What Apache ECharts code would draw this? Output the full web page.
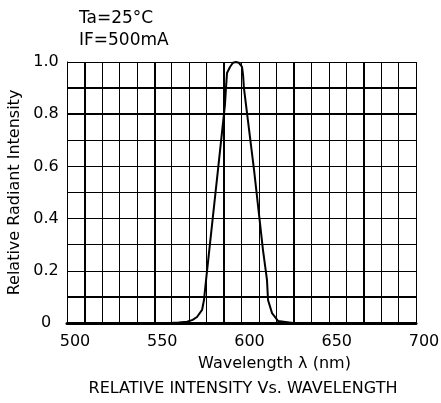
<!DOCTYPE html>
<html>
<head>
<meta charset="utf-8">
<script src="https://cdn.jsdelivr.net/npm/echarts@6/dist/echarts.min.js"></script>
<style>
  html, body { margin: 0; padding: 0; background: #fff; }
  #chart { width: 441px; height: 403px; }
</style>
</head>
<body>
<div id="chart"></div>
<script>
// spectrum
const wavelength = [500, 550, 559, 564, 568.8, 572, 574.5, 577.4, 578.5, 579.7, 586.5, 590.5, 591.1, 591.7, 593.4, 595.1, 596.8, 598.5, 600.3, 600.9, 601.4, 602.6, 607.2, 612.3, 614.6, 615.2, 617.5, 620.9, 629.5, 700]
const intensity = [0, 0, 0, 0.002, 0.005, 0.012, 0.023, 0.05, 0.088, 0.165, 0.586, 0.835, 0.9, 0.958, 0.981, 0.997, 1.0, 0.997, 0.981, 0.95, 0.9, 0.835, 0.586, 0.28, 0.165, 0.088, 0.038, 0.008, 0, 0]

// heavier grid lines on the original sheet
const boldX = [510, 550, 590, 630, 670]
const boldY = [0.1, 0.8, 0.9]

const conditions = ['Ta=25°C', 'IF=500mA']
const caption = 'RELATIVE INTENSITY Vs. WAVELENGTH'

const font = 'DejaVu Sans'
const chart = echarts.init(document.getElementById('chart'))

const marks = [
  ...boldX.map(v => ({ xAxis: v })),
  ...boldY.map(v => ({ yAxis: v }))
]

chart.setOption({
  animation: false,
  backgroundColor: '#fff',
  textStyle: { fontFamily: font, color: '#000' },
  title: [
    {
      text: conditions.join('\n'),
      left: 74,
      top: 3,
      textStyle: { fontFamily: font, fontSize: 17, fontWeight: 'normal', color: '#000', lineHeight: 22 }
    },
    {
      text: caption,
      left: 238,
      textAlign: 'center',
      top: 376,
      textStyle: { fontFamily: font, fontSize: 16, fontWeight: 'normal', color: '#000' }
    }
  ],
  grid: { left: 67, right: 25, top: 62, bottom: 80, show: false, containLabel: false, outerBoundsMode: 'none' },
  xAxis: {
    type: 'value',
    min: 500,
    max: 700,
    interval: 50,
    name: 'Wavelength λ (nm)',
    nameLocation: 'middle',
    nameGap: 33,
    nameTextStyle: { fontFamily: font, fontSize: 16, color: '#000', padding: [0, 0, 0, 66] },
    axisLine: { show: true, onZero: false, lineStyle: { color: '#000', width: 3 } },
    axisTick: { show: false },
    axisLabel: { fontFamily: font, fontSize: 16, color: '#000', margin: 11, padding: [0, 0, 0, 16] },
    splitLine: { show: true, lineStyle: { color: '#000', width: 1 } },
    minorTick: { show: false, splitNumber: 5 },
    minorSplitLine: { show: true, lineStyle: { color: '#000', width: 1 } }
  },
  yAxis: {
    type: 'value',
    min: 0,
    max: 1,
    interval: 0.2,
    name: 'Relative Radiant Intensity',
    nameLocation: 'middle',
    nameRotate: 90,
    nameGap: 42,
    nameTextStyle: { fontFamily: font, fontSize: 16, color: '#000' },
    axisLine: { show: true, lineStyle: { color: '#000', width: 1 } },
    axisTick: { show: false },
    axisLabel: {
      fontFamily: font,
      fontSize: 16,
      color: '#000',
      align: 'center',
      margin: 21,
      formatter: v => (v === 0 ? '0' : v.toFixed(1))
    },
    splitLine: { show: true, lineStyle: { color: '#000', width: 1 } },
    minorTick: { show: false, splitNumber: 2 },
    minorSplitLine: { show: true, lineStyle: { color: '#000', width: 1 } }
  },
  series: [
    {
      type: 'line',
      data: wavelength.map((w, i) => [w, intensity[i]]),
      showSymbol: false,
      smooth: false,
      lineStyle: { color: '#000', width: 2, join: 'round' },
      z: 5,
      markLine: {
        silent: true,
        symbol: 'none',
        label: { show: false },
        lineStyle: { color: '#000', width: 2, type: 'solid' },
        data: marks
      }
    }
  ]
})
</script>
</body>
</html>
